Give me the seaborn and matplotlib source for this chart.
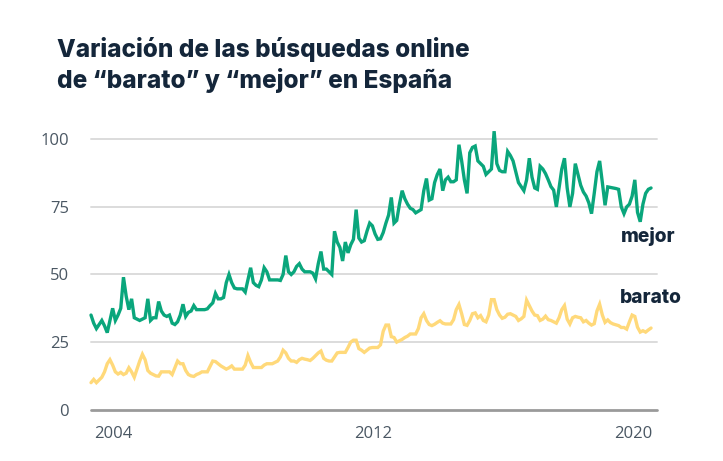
import numpy as np
import pandas as pd
import matplotlib
matplotlib.use("Agg")
import matplotlib.pyplot as plt
import seaborn as sns

# Monthly index (decimal years), Google-Trends style interest 0-100
n_months = 208
start_year = 2003.3

mejor = [
    35, 32, 30, 31.5, 33, 31, 28.5, 33, 37.5, 33, 35, 37.5, 49, 42, 37, 41, 34, 33.5, 33, 33.5,
    34, 41, 33, 34, 34, 40, 36.5, 35, 34.5, 35, 32, 31.5, 32.5, 35, 39,
    34.5, 36, 36.5, 38.5, 37, 37, 37, 37, 37.3, 38.5, 39.5, 43, 41, 41, 41.5, 47, 50, 47, 45, 44.7,
    44.7, 44.7, 43.5, 48, 52.5, 47, 46, 45.5, 48, 52.5, 51, 48, 48, 48, 48,
    47.8, 50, 57, 51, 50, 51, 53, 54, 52, 51, 51, 51, 50.5, 48.4, 54, 58.5, 52, 52, 51, 50,
    66, 62, 60, 55, 62, 58, 61, 63, 74, 63.5, 62, 62.5, 66, 69,
    68, 65, 63, 63.2, 65.5, 69, 72, 78.5, 69, 70, 76, 81, 78, 76, 74.5, 74, 72.8, 73.4, 74, 81,
    85.5, 77.5, 78, 84, 87, 89, 81, 85, 86, 84.3, 84.3, 85, 98, 92, 85, 80,
    95, 97, 97.5, 92, 91, 90, 87, 88, 89, 103, 91, 88.5, 88, 88, 95.5, 94, 92, 88, 84, 82.5,
    81, 85, 93, 86, 82, 81.5, 90, 89, 87.3, 85, 82.5, 81.2, 75, 82,
    89, 93, 82, 75, 80, 91, 87, 83, 80.5, 79, 76.5, 72.5, 80, 88, 92, 84, 75.6, 82.4, 82.2, 82,
    81.8, 81.5, 75, 72.5, 75, 76, 79, 85, 73, 69.5, 76, 80, 81.5, 82,
]

barato = [
    10, 11.2, 10, 11, 12, 14, 17, 18.5, 16.5, 14, 13.2, 13.8, 13, 13.5, 15.5, 14, 12, 15, 18, 20.5,
    18.5, 14.5, 13.5, 13, 12.5, 12.4, 14, 14, 14, 14, 13, 15.5, 18, 17, 17,
    14.5, 13, 12.5, 12.3, 13, 13.4, 14, 14, 14, 16, 18, 17.8, 17, 16.2, 15.6, 15, 15.5, 16.2, 15, 15,
    15, 15, 16.5, 20, 17.5, 15.6, 15.6, 15.6, 15.6, 16.5, 17, 17, 17, 17.5, 18,
    19.5, 22, 21, 19, 18, 18, 17.5, 18.5, 19, 18.7, 18.5, 18.2, 19, 20, 21, 21.7, 19, 18.3, 18, 18,
    19.5, 21, 21.2, 21.2, 21.2, 23, 25, 25.7, 25.7, 22.6, 22, 21.2, 22, 22.8,
    23, 23, 23, 24, 29, 31.3, 31.3, 27, 26.7, 25, 25.5, 26, 26.7, 27.2, 28, 28, 28, 30, 34, 35.5,
    33, 31.5, 31.1, 31.6, 32.3, 32.9, 32, 31.7, 31.7, 31.7, 33.3, 37, 38.9, 35.5, 31.5, 31.2,
    33, 35.5, 35.8, 34, 34.8, 33, 32.5, 35, 40.7, 40.7, 37, 35, 33.8, 34.2, 35.3, 35.5, 35, 34.5, 33, 33.6,
    34.5, 40.5, 38.5, 36.5, 35, 34.8, 33, 33.5, 34.6, 33.3, 33, 32.5, 32, 34,
    37, 38.5, 33.5, 31.7, 34, 34.5, 34.2, 34, 32.5, 33, 32, 31.3, 31.8, 36.5, 39, 35, 32.3, 33.2, 32.2, 31.7,
    31.4, 31.1, 30.4, 30.4, 29.8, 32.5, 35, 34.5, 30.5, 28.7, 29.2, 28.7, 29.5, 30.2,
]

x_ticks = [2004, 2012, 2020]
y_ticks = [0, 25, 50, 75, 100]
series_names = ["mejor", "barato"]
colors = {"mejor": "#0aa67c", "barato": "#ffd97a"}
title = "Variación de las búsquedas online\nde “barato” y “mejor” en España"

years = start_year + np.arange(n_months) / 12.0
df = pd.DataFrame({
    "year": np.concatenate([years, years]),
    "value": mejor + barato,
    "term": ["mejor"] * len(mejor) + ["barato"] * len(barato),
})

sns.set_theme(style="white")
plt.rcParams["font.family"] = ["Open Sans", "DejaVu Sans"]

fig = plt.figure(figsize=(7.23, 4.61), dpi=100)
ax = fig.add_axes([91 / 723, 1 - 409.7 / 461, (657 - 91) / 723, (409.7 - 139.3) / 461])

for y in y_ticks[1:]:
    ax.axhline(y, color="#dcdcdc", lw=1.4, zorder=0)
ax.axhline(0, color="#9a9a9a", lw=2.0, zorder=1)

sns.lineplot(data=df, x="year", y="value", hue="term", palette=colors,
             hue_order=["barato", "mejor"], linewidth=2.4, legend=False, ax=ax)
for line in ax.get_lines():
    line.set_clip_on(False)
    line.set_solid_joinstyle("miter")

ax.set_xlim(start_year, start_year + 209.2 / 12)
ax.set_ylim(0, 100)
ax.set_xticks(x_ticks)
ax.set_xticklabels([str(t) for t in x_ticks])
ax.set_yticks(y_ticks)
ax.set_yticklabels([str(t) for t in y_ticks])
ax.tick_params(axis="both", length=0, labelsize=12, labelcolor="#4a5763")
ax.tick_params(axis="y", pad=16)
ax.tick_params(axis="x", pad=12)
ax.set_xlabel("")
ax.set_ylabel("")
for s in ax.spines.values():
    s.set_visible(False)

fig.text(57 / 723, 1 - 37 / 461, title, ha="left", va="top", fontsize=17.5,
         fontweight=800, color="#14263a", family=["Inter", "DejaVu Sans"], linespacing=1.3)

fig.text(621 / 723, 1 - 236 / 461, "mejor", ha="left", va="center", fontsize=13.8,
         fontweight=800, color="#14263a", family=["Inter", "DejaVu Sans"])
fig.text(620 / 723, 1 - 298 / 461, "barato", ha="left", va="center", fontsize=13.8,
         fontweight=800, color="#14263a", family=["Inter", "DejaVu Sans"])

fig.savefig("out.png", dpi=100)
